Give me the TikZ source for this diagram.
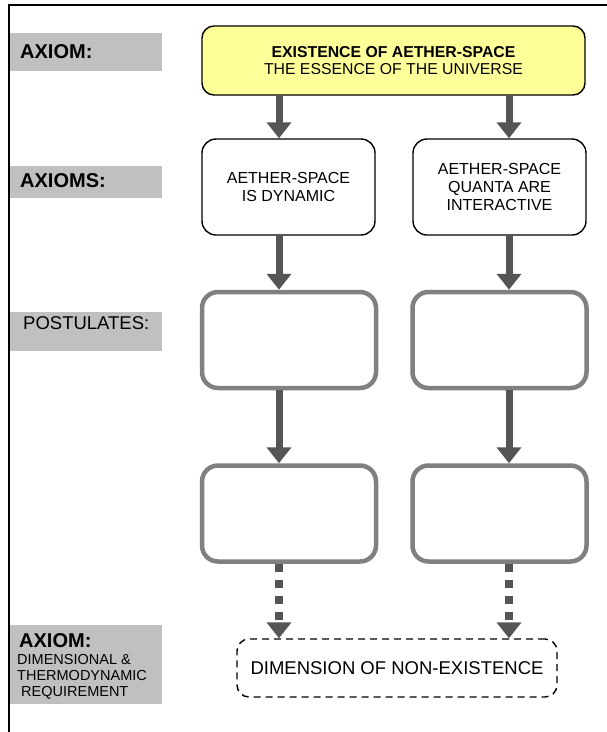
\documentclass[tikz,border=0pt]{standalone}
\usepackage{fontspec}
\setmainfont{Liberation Sans}
\usetikzlibrary{arrows.meta}
\definecolor{axiomyellow}{HTML}{FFFF99}
\definecolor{labelgray}{HTML}{C0C0C0}
\definecolor{boxgray}{HTML}{808080}
\definecolor{arrowgray}{HTML}{555555}
\begin{document}
\begin{tikzpicture}[x=1pt,y=-1pt,
	labeltext/.style={anchor=west,inner sep=0pt},
	axiombox/.style={draw,line width=1.4pt,rounded corners=14pt,minimum width=173pt,minimum height=96pt,align=center,inner sep=0pt,font=\fontsize{16}{18.3}\selectfont},
	postbox/.style={draw=boxgray,line width=4.5pt,rounded corners=16pt,minimum width=174pt,minimum height=96pt},
	bigarrow/.style={draw=arrowgray,line width=7pt,-{Triangle[width=24pt,length=16pt]}},
	dotarrow/.style={bigarrow,line width=8pt,dash pattern=on 8pt off 8pt}]
	\useasboundingbox (0,0) rectangle (607,732);
	\draw[line width=1.2pt] (9,732) -- (9,5) -- (607,5);
	\fill[labelgray] (10,33) rectangle (162,71);
	\node[labeltext,font=\fontsize{20}{24}\selectfont\bfseries] (axiomlabel) at (20,52) {AXIOM:};
	\fill[labelgray] (10,166) rectangle (162,198);
	\node[labeltext,font=\fontsize{20}{24}\selectfont\bfseries] (axiomslabel) at (20,181) {AXIOMS:};
	\fill[labelgray] (10,312) rectangle (162,351);
	\node[labeltext,font=\fontsize{18.5}{22}\selectfont] (postlabel) at (23,323.5) {POSTULATES:};
	\fill[labelgray] (10,625) rectangle (162,704);
	\node[labeltext,font=\fontsize{20}{24}\selectfont\bfseries] (reqlabel) at (19,641) {AXIOM:};
	\node[labeltext,align=left,font=\fontsize{14.5}{16}\selectfont] (reqtext) at (17,677) {DIMENSIONAL \&\\THERMODYNAMIC\\\hspace{4pt}REQUIREMENT};
	\node[axiombox,fill=axiomyellow,minimum width=383pt,minimum height=69pt,rounded corners=12pt,font=\fontsize{15.8}{17}\selectfont] (essence) at (393.5,60.5) {\textbf{EXISTENCE OF AETHER-SPACE}\\THE ESSENCE OF THE UNIVERSE};
	\node[axiombox] (dynamic) at (288.5,187) {AETHER-SPACE\\IS DYNAMIC};
	\node[axiombox] (quanta) at (499.5,187) {AETHER-SPACE\\QUANTA ARE\\INTERACTIVE};
	\node[postbox] (postA) at (289,340) {};
	\node[postbox] (postB) at (499.5,340) {};
	\node[postbox] (postC) at (289,513.5) {};
	\node[postbox] (postD) at (499.5,513.5) {};
	\node[draw,line width=1.4pt,dash pattern=on 7pt off 5pt,rounded corners=12pt,minimum width=320pt,minimum height=58pt,font=\fontsize{18.5}{22}\selectfont] (nonexist) at (397,668) {DIMENSION OF NON-EXISTENCE};
	\coordinate (laneL) at ([xshift=-9.5pt]dynamic.north);
	\coordinate (laneR) at ([xshift=9.5pt]quanta.north);
	\draw[bigarrow] (laneL |- essence.south) -- (laneL);
	\draw[bigarrow] (laneR |- essence.south) -- (laneR);
	\draw[bigarrow] (laneL |- dynamic.south) -- (laneL |- postA.north);
	\draw[bigarrow] (laneR |- quanta.south) -- (laneR |- postB.north);
	\draw[bigarrow] (laneL |- postA.south) -- (laneL |- postC.north);
	\draw[bigarrow] (laneR |- postB.south) -- (laneR |- postD.north);
	\draw[dotarrow] (laneL |- postC.south) -- (laneL |- nonexist.north);
	\draw[dotarrow] (laneR |- postD.south) -- (laneR |- nonexist.north);
\end{tikzpicture}
\end{document}
